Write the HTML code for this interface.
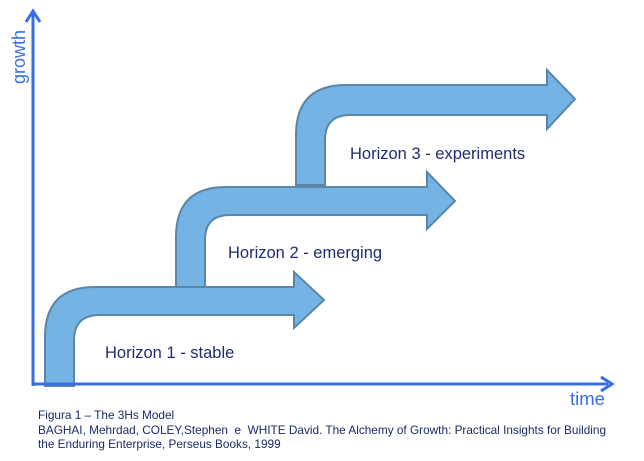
<!DOCTYPE html>
<html><head><style>
html,body{margin:0;padding:0;background:#fff;width:644px;height:461px;overflow:hidden;}
.cap{position:absolute;left:38px;font-family:"Liberation Sans",sans-serif;font-size:11.8px;color:#1a2a66;white-space:nowrap;}
</style></head><body>
<svg width="644" height="461" style="position:absolute;left:0;top:0" xmlns="http://www.w3.org/2000/svg">
<g fill="#74b3e3" stroke="#5a87a8" stroke-width="2" stroke-linejoin="miter">
<path d="M296,185 L296,135 Q296,85 346,85 L547,85 L547,70 L575,99 L547,129 L547,115 L350,115 Q325,115 325,140 L325,185 Z"/>
<path d="M176,287 L176,237 Q176,187 226,187 L427,187 L427,172 L455,201 L427,229 L427,215 L230,215 Q205,215 205,240 L205,287 Z"/>
<path d="M45,386 L45,337 Q45,287 95,287 L294,287 L294,272 L324,300 L294,328 L294,315 L100,315 Q74,315 74,340 L74,386 Z"/>
</g>
<g stroke="#3a6ee0" stroke-width="3" fill="none">
<line x1="33" y1="386" x2="33" y2="14"/>
<line x1="32" y1="384" x2="608" y2="384"/>
<polyline points="26,22 33,11 40,22"/>
<polyline points="601,377 612,384 601,391"/>
</g>
<g font-family="Liberation Sans, sans-serif" fill="#3a6ee0">
<text transform="translate(25,84) rotate(-90)" font-size="18">growth</text>
<text x="570" y="405" font-size="18.5">time</text>
</g>
<g font-family="Liberation Sans, sans-serif" fill="#1f2d6e" font-size="16.5">
<text x="105" y="358">Horizon 1 - stable</text>
<text x="228" y="258">Horizon 2 - emerging</text>
<text x="350" y="159">Horizon 3 - experiments</text>
</g>
</svg>
<div class="cap" style="top:408px">Figura 1 – The 3Hs Model</div>
<div class="cap" style="top:423px">BAGHAI, Mehrdad, COLEY,Stephen&nbsp; e&nbsp; WHITE David. The Alchemy of Growth: Practical Insights for Building</div>
<div class="cap" style="top:437px">the Enduring Enterprise, Perseus Books, 1999</div>
</body></html>
